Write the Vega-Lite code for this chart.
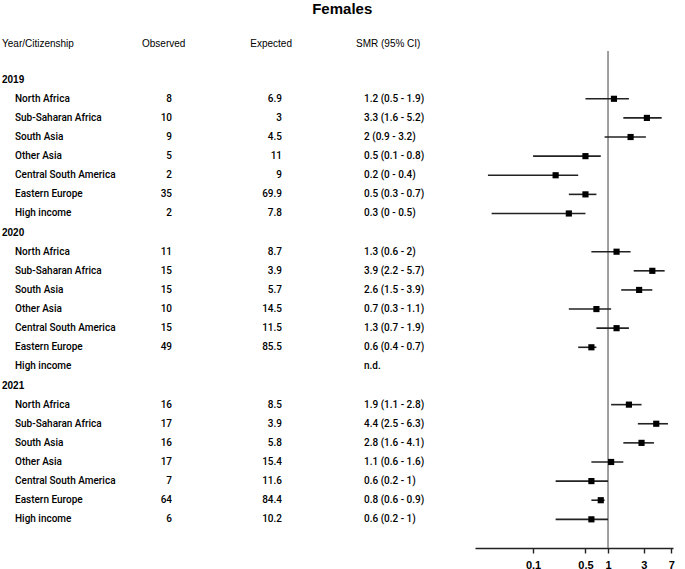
{
  "$schema": "https://vega.github.io/schema/vega-lite/v6.json",
  "padding": {"left": 2, "top": 2, "right": 0, "bottom": 0},
  "title": {
    "text": "Females",
    "font": "Liberation Sans",
    "fontSize": 15,
    "fontWeight": "bold",
    "color": "#000000",
    "anchor": "middle",
    "dx": 4,
    "offset": 22
  },
  "config": {
    "view": {"stroke": null},
    "font": "Liberation Sans",
    "text": {"font": "Roboto", "fontSize": 10, "fontWeight": 500, "color": "#000000", "baseline": "middle"},
    "title": {"font": "Liberation Sans", "fontSize": 10, "fontWeight": "normal", "color": "#000000", "offset": 2}
  },
  "data": {
    "values": [
      {"key": "2019", "label": "2019", "kind": "year"},
      {"key": "2019 North Africa", "label": "North Africa", "kind": "region", "obs": "8", "exp": "6.9", "smrText": "1.2 (0.5 - 1.9)", "smr": 1.2, "lo": 0.5, "hi": 1.9},
      {"key": "2019 Sub-Saharan Africa", "label": "Sub-Saharan Africa", "kind": "region", "obs": "10", "exp": "3", "smrText": "3.3 (1.6 - 5.2)", "smr": 3.3, "lo": 1.6, "hi": 5.2},
      {"key": "2019 South Asia", "label": "South Asia", "kind": "region", "obs": "9", "exp": "4.5", "smrText": "2 (0.9 - 3.2)", "smr": 2, "lo": 0.9, "hi": 3.2},
      {"key": "2019 Other Asia", "label": "Other Asia", "kind": "region", "obs": "5", "exp": "11", "smrText": "0.5 (0.1 - 0.8)", "smr": 0.5, "lo": 0.1, "hi": 0.8},
      {"key": "2019 Central South America", "label": "Central South America", "kind": "region", "obs": "2", "exp": "9", "smrText": "0.2 (0 - 0.4)", "smr": 0.2, "lo": 0.025, "hi": 0.4},
      {"key": "2019 Eastern Europe", "label": "Eastern Europe", "kind": "region", "obs": "35", "exp": "69.9", "smrText": "0.5 (0.3 - 0.7)", "smr": 0.5, "lo": 0.3, "hi": 0.7},
      {"key": "2019 High income", "label": "High income", "kind": "region", "obs": "2", "exp": "7.8", "smrText": "0.3 (0 - 0.5)", "smr": 0.3, "lo": 0.028, "hi": 0.5},
      {"key": "2020", "label": "2020", "kind": "year"},
      {"key": "2020 North Africa", "label": "North Africa", "kind": "region", "obs": "11", "exp": "8.7", "smrText": "1.3 (0.6 - 2)", "smr": 1.3, "lo": 0.6, "hi": 2},
      {"key": "2020 Sub-Saharan Africa", "label": "Sub-Saharan Africa", "kind": "region", "obs": "15", "exp": "3.9", "smrText": "3.9 (2.2 - 5.7)", "smr": 3.9, "lo": 2.2, "hi": 5.7},
      {"key": "2020 South Asia", "label": "South Asia", "kind": "region", "obs": "15", "exp": "5.7", "smrText": "2.6 (1.5 - 3.9)", "smr": 2.6, "lo": 1.5, "hi": 3.9},
      {"key": "2020 Other Asia", "label": "Other Asia", "kind": "region", "obs": "10", "exp": "14.5", "smrText": "0.7 (0.3 - 1.1)", "smr": 0.7, "lo": 0.3, "hi": 1.1},
      {"key": "2020 Central South America", "label": "Central South America", "kind": "region", "obs": "15", "exp": "11.5", "smrText": "1.3 (0.7 - 1.9)", "smr": 1.3, "lo": 0.7, "hi": 1.9},
      {"key": "2020 Eastern Europe", "label": "Eastern Europe", "kind": "region", "obs": "49", "exp": "85.5", "smrText": "0.6 (0.4 - 0.7)", "smr": 0.6, "lo": 0.4, "hi": 0.7},
      {"key": "2020 High income", "label": "High income", "kind": "region", "smrText": "n.d."},
      {"key": "2021", "label": "2021", "kind": "year"},
      {"key": "2021 North Africa", "label": "North Africa", "kind": "region", "obs": "16", "exp": "8.5", "smrText": "1.9 (1.1 - 2.8)", "smr": 1.9, "lo": 1.1, "hi": 2.8},
      {"key": "2021 Sub-Saharan Africa", "label": "Sub-Saharan Africa", "kind": "region", "obs": "17", "exp": "3.9", "smrText": "4.4 (2.5 - 6.3)", "smr": 4.4, "lo": 2.5, "hi": 6.3},
      {"key": "2021 South Asia", "label": "South Asia", "kind": "region", "obs": "16", "exp": "5.8", "smrText": "2.8 (1.6 - 4.1)", "smr": 2.8, "lo": 1.6, "hi": 4.1},
      {"key": "2021 Other Asia", "label": "Other Asia", "kind": "region", "obs": "17", "exp": "15.4", "smrText": "1.1 (0.6 - 1.6)", "smr": 1.1, "lo": 0.6, "hi": 1.6},
      {"key": "2021 Central South America", "label": "Central South America", "kind": "region", "obs": "7", "exp": "11.6", "smrText": "0.6 (0.2 - 1)", "smr": 0.6, "lo": 0.2, "hi": 1},
      {"key": "2021 Eastern Europe", "label": "Eastern Europe", "kind": "region", "obs": "64", "exp": "84.4", "smrText": "0.8 (0.6 - 0.9)", "smr": 0.8, "lo": 0.6, "hi": 0.9},
      {"key": "2021 High income", "label": "High income", "kind": "region", "obs": "6", "exp": "10.2", "smrText": "0.6 (0.2 - 1)", "smr": 0.6, "lo": 0.2, "hi": 1}
    ]
  },
  "spacing": 0,
  "bounds": "flush",
  "resolve": {"scale": {"y": "shared"}},
  "hconcat": [
    {
      "width": 140,
      "height": 497,
      "title": {"text": "Year/Citizenship", "anchor": "start"},
      "layer": [
        {
          "transform": [{"filter": "datum.kind === 'year'"}],
          "mark": {"type": "text", "align": "left", "x": 0, "font": "Liberation Sans", "fontWeight": "bold"},
          "encoding": {
            "y": {
              "field": "key", "type": "nominal", "axis": null,
              "scale": {
                "type": "band", "paddingInner": 0, "paddingOuter": 1,
                "domain": [
                  "2019", "2019 North Africa", "2019 Sub-Saharan Africa", "2019 South Asia", "2019 Other Asia", "2019 Central South America", "2019 Eastern Europe", "2019 High income",
                  "2020", "2020 North Africa", "2020 Sub-Saharan Africa", "2020 South Asia", "2020 Other Asia", "2020 Central South America", "2020 Eastern Europe", "2020 High income",
                  "2021", "2021 North Africa", "2021 Sub-Saharan Africa", "2021 South Asia", "2021 Other Asia", "2021 Central South America", "2021 Eastern Europe", "2021 High income"
                ]
              }
            },
            "text": {"field": "label", "type": "nominal"}
          }
        },
        {
          "transform": [{"filter": "datum.kind === 'region'"}],
          "mark": {"type": "text", "align": "left", "x": 0, "dx": 13},
          "encoding": {
            "y": {"field": "key", "type": "nominal", "axis": null},
            "text": {"field": "label", "type": "nominal"}
          }
        }
      ]
    },
    {
      "width": 30,
      "height": 497,
      "title": {"text": "Observed", "anchor": "start"},
      "transform": [{"filter": "isValid(datum.obs)"}],
      "mark": {"type": "text", "align": "right", "x": "width"},
      "encoding": {
        "y": {"field": "key", "type": "nominal", "axis": null},
        "text": {"field": "obs", "type": "nominal"}
      }
    },
    {
      "width": 110,
      "height": 497,
      "title": {"text": "Expected", "anchor": "end", "dx": 10},
      "transform": [{"filter": "isValid(datum.exp)"}],
      "mark": {"type": "text", "align": "right", "x": "width"},
      "encoding": {
        "y": {"field": "key", "type": "nominal", "axis": null},
        "text": {"field": "exp", "type": "nominal"}
      }
    },
    {
      "width": 193,
      "height": 497,
      "title": {"text": "SMR (95% CI)", "anchor": "start", "dx": 74},
      "transform": [{"filter": "isValid(datum.smrText)"}],
      "mark": {"type": "text", "align": "left", "x": 0, "dx": 82},
      "encoding": {
        "y": {"field": "key", "type": "nominal", "axis": null},
        "text": {"field": "smrText", "type": "nominal"}
      }
    },
    {
      "width": 198,
      "height": 497,
      "layer": [
        {
          "data": {"values": [{"ref": 1}]},
          "mark": {"type": "rule", "color": "#777777", "strokeWidth": 1.4},
          "encoding": {
            "x": {
              "field": "ref", "type": "quantitative",
              "scale": {"type": "log", "domain": [0.0168, 7.36], "nice": false},
              "axis": {
                "values": [0.1, 0.5, 1, 3, 7],
                "format": "~g",
                "title": null,
                "grid": false,
                "domainColor": "#222222",
                "domainWidth": 1.6,
                "tickColor": "#222222",
                "tickWidth": 1.4,
                "tickSize": 5,
                "labelFont": "Liberation Sans",
                "labelFontSize": 11,
                "labelFontWeight": "bold",
                "labelColor": "#000000",
                "labelPadding": 6
              }
            }
          }
        },
        {
          "transform": [{"filter": "isValid(datum.smr)"}],
          "mark": {"type": "rule", "color": "#222222", "strokeWidth": 1.6},
          "encoding": {
            "y": {"field": "key", "type": "nominal", "axis": null},
            "x": {"field": "lo", "type": "quantitative"},
            "x2": {"field": "hi"}
          }
        },
        {
          "transform": [{"filter": "isValid(datum.smr)"}],
          "mark": {"type": "square", "color": "#000000", "opacity": 1, "size": 38},
          "encoding": {
            "y": {"field": "key", "type": "nominal", "axis": null},
            "x": {"field": "smr", "type": "quantitative"}
          }
        }
      ]
    }
  ]
}
